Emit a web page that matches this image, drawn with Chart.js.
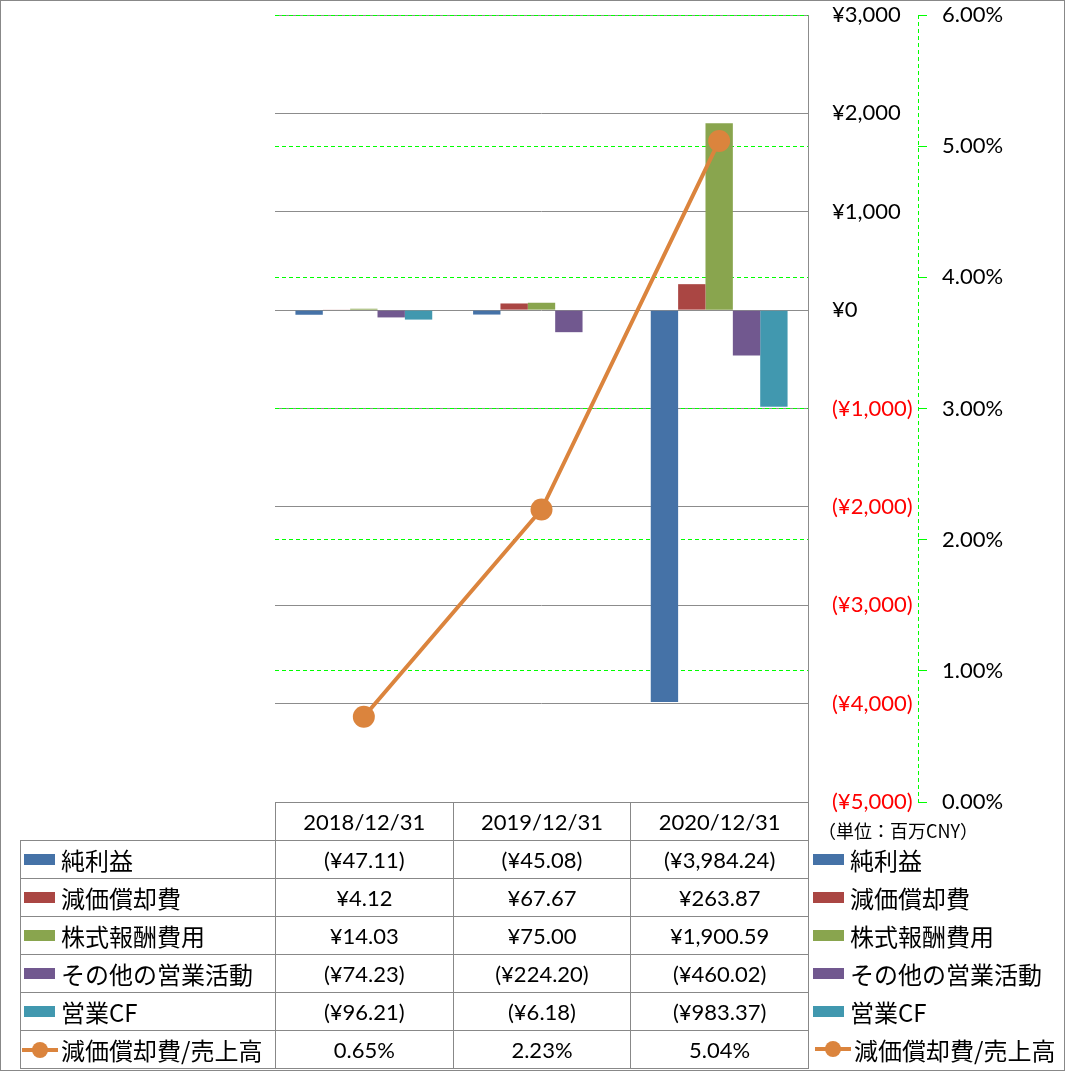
<!DOCTYPE html>
<html>
<head>
<meta charset="utf-8">
<script src="https://cdn.jsdelivr.net/npm/chart.js@4/dist/chart.umd.min.js"></script>
<style>
  body { margin: 0; background: #fff; }
  #wrap { position: relative; width: 1066px; height: 1071px; font-family: Lato, "Noto Sans CJK JP", sans-serif; }
  #frame { position: absolute; left: 0; top: 0; width: 1065px; height: 1071px; box-sizing: border-box; border: 1px solid #888; pointer-events: none; }
  #tbl { position: absolute; border-collapse: collapse; table-layout: fixed; font-size: 22px; color: #000; }
  #tbl td { border: 1px solid #888; height: 37px; padding: 0; text-align: center; white-space: nowrap; }
  #tbl td.blank { border: none; }
  #tbl td.lg { text-align: left; }
  .sw { display: inline-block; width: 31px; height: 11px; margin: 0 6px 0 3px; vertical-align: middle; }
  .ln { display: inline-block; position: relative; width: 36px; height: 20px; margin: 0 3px 0 1px; vertical-align: middle; }
  .ln i { position: absolute; left: 0; top: 8px; width: 36px; height: 4px; }
  .ln b { position: absolute; left: 10px; top: 2px; width: 16px; height: 16px; border-radius: 50%; }
  .jp { font-family: "Noto Sans CJK JP", sans-serif; font-size: 24px; vertical-align: middle; }
  .rl { position: absolute; font-size: 22px; white-space: nowrap; display: flex; align-items: center; }
  #unit { position: absolute; left: 818px; top: 817px; font-family: "Noto Sans CJK JP", sans-serif; font-size: 18px; }
</style>
</head>
<body>
<div id="wrap">
  <canvas id="chart" width="1066" height="1071"></canvas>
  <div id="unit">（単位：百万CNY）</div>
  <div id="frame"></div>
</div>
<script>
// 決算期
const categories = ['2018/12/31', '2019/12/31', '2020/12/31'];

// 百万CNY
const netIncome = [-47.11, -45.08, -3984.24];
const depreciation = [4.12, 67.67, 263.87];
const stockComp = [14.03, 75.00, 1900.59];
const otherOps = [-74.23, -224.20, -460.02];
const operatingCF = [-96.21, -6.18, -983.37];

// %
const depRatio = [0.65, 2.23, 5.04];

const seriesNames = ['純利益', '減価償却費', '株式報酬費用', 'その他の営業活動', '営業CF', '減価償却費/売上高'];
const seriesColors = ['#4572A7', '#AA4643', '#89A54E', '#71588F', '#4198AF', '#DB843D'];

function yen(v, digits) {
    const s = '¥' + Math.abs(v).toLocaleString('en-US', { minimumFractionDigits: digits, maximumFractionDigits: digits });
    return v < 0 ? '(' + s + ')' : s;
}

// 右側の%軸の縦線（点線）
const pctAxisLine = {
    id: 'pctAxisLine',
    afterDraw(chart) {
        const s = chart.scales.yPct;
        const ctx = chart.ctx;
        ctx.save();
        ctx.strokeStyle = '#00ff00';
        ctx.lineWidth = 1;
        ctx.setLineDash([4, 3]);
        ctx.beginPath();
        ctx.moveTo(Math.round(s.left) + 0.5, s.top);
        ctx.lineTo(Math.round(s.left) + 0.5, s.bottom);
        ctx.stroke();
        ctx.restore();
    }
};

const barData = [netIncome, depreciation, stockComp, otherOps, operatingCF];
const datasets = barData.map((d, i) => ({
    type: 'bar',
    label: seriesNames[i],
    data: d,
    backgroundColor: seriesColors[i],
    borderWidth: 0,
    barPercentage: 1,
    categoryPercentage: 0.77,
    yAxisID: 'y',
    order: 1
}));
datasets.push({
    type: 'line',
    label: seriesNames[5],
    data: depRatio,
    borderColor: seriesColors[5],
    backgroundColor: seriesColors[5],
    borderWidth: 4,
    pointRadius: 11,
    pointBorderWidth: 0,
    pointBackgroundColor: seriesColors[5],
    tension: 0,
    yAxisID: 'yPct',
    order: 0
});

const fontFamily = 'Lato, "Noto Sans CJK JP", sans-serif';

function fitRight(width) {
    return function (scale) {
        scale.width = width;
        scale.paddingTop = 0;
        scale.paddingBottom = 0;
    };
}

const chart = new Chart(document.getElementById('chart').getContext('2d'), {
    data: { labels: categories, datasets: datasets },
    options: {
        responsive: false,
        animation: false,
        layout: { padding: { left: 275, top: 15, right: 2, bottom: 269 } },
        plugins: { legend: { display: false }, tooltip: { enabled: false } },
        scales: {
            x: { display: false },
            y: {
                position: 'right',
                weight: 0,
                min: -5000,
                max: 3000,
                afterFit: fitRight(110),
                grid: { color: '#8c8c8c', lineWidth: 1, drawTicks: false },
                border: { display: true, color: '#8c8c8c', width: 1 },
                ticks: {
                    stepSize: 1000,
                    crossAlign: 'near',
                    padding: 24,
                    font: { family: fontFamily, size: 22 },
                    color: function (ctx) { return ctx.tick && ctx.tick.value < 0 ? '#ff0000' : '#000000'; },
                    callback: function (value) { return yen(value, 0); }
                }
            },
            yPct: {
                position: 'right',
                weight: 1,
                min: 0,
                max: 6,
                afterFit: fitRight(146),
                grid: { color: '#00ff00', lineWidth: 1, drawTicks: true, tickLength: 9, tickColor: '#00ff00' },
                border: { display: false, dash: [4, 3] },
                ticks: {
                    stepSize: 1,
                    padding: 15,
                    font: { family: fontFamily, size: 22 },
                    color: '#000000',
                    callback: function (value) { return value.toFixed(2) + '%'; }
                }
            }
        }
    },
    plugins: [pctAxisLine]
});

// データテーブルと凡例
function legendMark(i) {
    if (i === 5) {
        return '<span class="ln"><i style="background:' + seriesColors[i] + '"></i><b style="background:' + seriesColors[i] + '"></b></span>';
    }
    return '<span class="sw" style="background:' + seriesColors[i] + '"></span>';
}

function buildTable() {
    const area = chart.chartArea;
    const colW = (area.right - area.left) / categories.length;
    const rowH = 38;
    const tbl = document.createElement('table');
    tbl.id = 'tbl';
    tbl.style.left = '20px';
    tbl.style.top = Math.round(area.bottom) + 'px';
    let html = '<colgroup><col style="width:' + (area.left - 20) + 'px">';
    categories.forEach(() => { html += '<col style="width:' + colW + 'px">'; });
    html += '</colgroup><tr><td class="blank"></td>';
    categories.forEach(c => { html += '<td>' + c + '</td>'; });
    html += '</tr>';
    const allData = barData.concat([depRatio]);
    allData.forEach((d, i) => {
        html += '<tr><td class="lg">' + legendMark(i) + '<span class="jp">' + seriesNames[i] + '</span></td>';
        d.forEach(v => {
            html += '<td>' + (i === 5 ? v.toFixed(2) + '%' : yen(v, 2)) + '</td>';
        });
        html += '</tr>';
    });
    tbl.innerHTML = html;
    document.getElementById('wrap').appendChild(tbl);

    // 右側の凡例
    allData.forEach((d, i) => {
        const div = document.createElement('div');
        div.className = 'rl';
        div.style.left = (Math.round(area.right) + (i === 5 ? 6 : 2)) + 'px';
        div.style.top = (Math.round(area.bottom) + rowH * (i + 1)) + 'px';
        div.style.height = rowH + 'px';
        div.innerHTML = legendMark(i) + '<span class="jp">' + seriesNames[i] + '</span>';
        document.getElementById('wrap').appendChild(div);
    });
}
buildTable();
</script>
</body>
</html>
